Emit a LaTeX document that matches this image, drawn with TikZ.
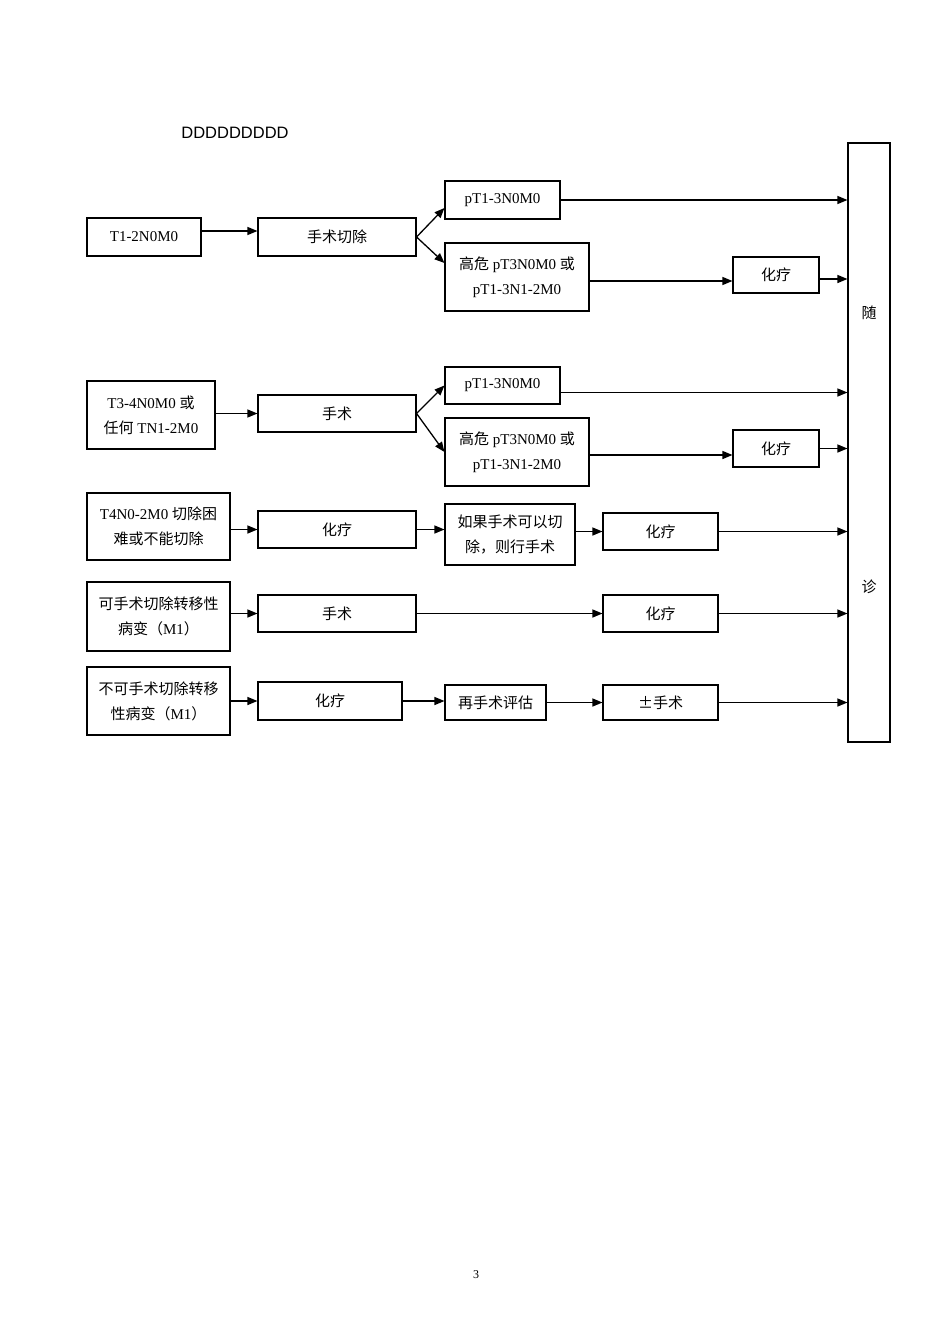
\documentclass[tikz,border=0pt]{standalone}
\usepackage{fontspec}
\setmainfont{Liberation Serif}
\newfontfamily\cjk{Noto Sans CJK SC}
\newfontfamily\arialfont{Liberation Sans}
\newcommand{\zh}[1]{{\cjk #1}}
\usetikzlibrary{arrows.meta}
\begin{document}
\begin{tikzpicture}[x=1pt,y=-1pt,
  box/.style={draw,line width=1.1pt,inner sep=0pt,align=center,
    font=\fontsize{15}{25}\selectfont},
  heavybox/.style={box,line width=1.8pt},
  arr/.style={line width=1.3pt,-{Triangle[length=10pt,width=8pt]}}]
\useasboundingbox (0,0) rectangle (950,1344);
%\draw[step=50,gray,very thin] (0,0) grid (950,1344);
\node[font=\arialfont\fontsize{16.5}{16.5}\selectfont] (ttl) at (235,133) {DDDDDDDDD};
% follow-up column
\node[draw,line width=1.1pt,minimum width=42pt,minimum height=599pt] (fu) at (869,442.5) {};
\node[font=\cjk\fontsize{15}{15}\selectfont] (fua) at (869,313) {随};
\node[font=\cjk\fontsize{15}{15}\selectfont] (fub) at (869,587) {诊};
% row 1
\node[heavybox,minimum width=114pt,minimum height=38pt] (t1) at (144,237) {T1-2N0M0};
\node[box,minimum width=158pt,minimum height=38pt] (s1) at (337,237) {\zh{手术切除}};
\node[box,minimum width=115pt,minimum height=38pt] (p1) at (502.5,200) {pT1-3N0M0};
\node[box,minimum width=144pt,minimum height=68pt] (h1) at (517,277) {\zh{高危} pT3N0M0 \zh{或}\\pT1-3N1-2M0};
\node[box,minimum width=86pt,minimum height=36pt] (c1) at (776,275) {\zh{化疗}};
\draw[arr] ([yshift=6pt]t1.east) -- ([yshift=6pt]s1.west);
\draw[arr] (s1.east) -- ([yshift=-8pt]p1.west);
\draw[arr] (s1.east) -- ([yshift=14pt]h1.west);
\draw[arr] (p1.east) -- (p1.east -| fu.west);
\draw[arr] ([yshift=-4pt]h1.east) -- ([yshift=-4pt]h1.east -| c1.west);
\draw[arr] ([yshift=-4pt]c1.east) -- ([yshift=-4pt]c1.east -| fu.west);
% row 2
\node[box,minimum width=128pt,minimum height=68pt] (t2) at (151,415) {T3-4N0M0 \zh{或}\\\zh{任何} TN1-2M0};
\node[box,minimum width=158pt,minimum height=37pt] (s2) at (337,413.5) {\zh{手术}};
\node[box,minimum width=115pt,minimum height=37pt] (p2) at (502.5,385.5) {pT1-3N0M0};
\node[box,minimum width=144pt,minimum height=68pt] (h2) at (517,452) {\zh{高危} pT3N0M0 \zh{或}\\pT1-3N1-2M0};
\node[box,minimum width=86pt,minimum height=37pt] (c2) at (776,448.5) {\zh{化疗}};
\draw[arr] (s2.west -| t2.east) -- (s2.west);
\draw[arr] (s2.east) -- (p2.west);
\draw[arr] (s2.east) -- (h2.west);
\draw[arr] ([yshift=-7pt]p2.east) -- ([yshift=-7pt]p2.east -| fu.west);
\draw[arr] ([yshift=-3pt]h2.east) -- ([yshift=-3pt]h2.east -| c2.west);
\draw[arr] (c2.east) -- (c2.east -| fu.west);
% row 3
\node[box,minimum width=143pt,minimum height=67pt] (t3) at (158.5,526.5) {T4N0-2M0 \zh{切除困}\\\zh{难或不能切除}};
\node[box,minimum width=158pt,minimum height=37pt] (s3) at (337,529.5) {\zh{化疗}};
\node[box,minimum width=130pt,minimum height=61pt] (m3) at (510,534.5) {\zh{如果手术可以切}\\\zh{除，则行手术}};
\node[box,minimum width=115pt,minimum height=37pt] (c3) at (660.5,531.5) {\zh{化疗}};
\draw[arr] (s3.west -| t3.east) -- (s3.west);
\draw[arr] (s3.east) -- (s3.east -| m3.west);
\draw[arr] (c3.west -| m3.east) -- (c3.west);
\draw[arr] (c3.east) -- (c3.east -| fu.west);
% row 4
\node[box,minimum width=143pt,minimum height=69pt] (t4) at (158.5,616.5) {\zh{可手术切除转移性}\\\zh{病变（}M1\zh{）}};
\node[box,minimum width=158pt,minimum height=37pt] (s4) at (337,613.5) {\zh{手术}};
\node[box,minimum width=115pt,minimum height=37pt] (c4) at (660.5,613.5) {\zh{化疗}};
\draw[arr] (s4.west -| t4.east) -- (s4.west);
\draw[arr] (s4.east) -- (c4.west);
\draw[arr] (c4.east) -- (c4.east -| fu.west);
% row 5
\node[box,minimum width=143pt,minimum height=68pt] (t5) at (158.5,701) {\zh{不可手术切除转移}\\\zh{性病变（}M1\zh{）}};
\node[box,minimum width=144pt,minimum height=38pt] (s5) at (330,701) {\zh{化疗}};
\node[box,minimum width=101pt,minimum height=35pt] (r5) at (495.5,702.5) {\zh{再手术评估}};
\node[box,minimum width=115pt,minimum height=35pt] (pm5) at (660.5,702.5) {\zh{±手术}};
\draw[arr] (t5.east) -- (s5.west);
\draw[arr] (s5.east) -- (s5.east -| r5.west);
\draw[arr] (r5.east) -- (pm5.west);
\draw[arr] (pm5.east) -- (pm5.east -| fu.west);
% page number
\node[font=\fontsize{12}{12}\selectfont] (pg) at (476,1275) {3};
\end{tikzpicture}
\end{document}
